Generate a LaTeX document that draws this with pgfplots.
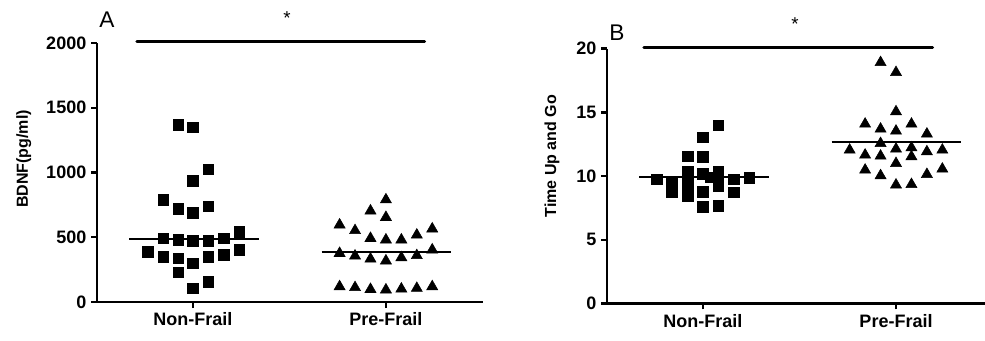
\documentclass[border=0pt]{standalone}
\usepackage{fontspec}
\setmainfont{Liberation Sans}
\usepackage{pgfplots}
\pgfplotsset{compat=1.18}
\pgfplotsset{
  panel/.style={
    scale only axis,
    axis x line=bottom, axis y line=left,
    axis line style={line width=2.2pt,-},
    every tick/.style={line width=1.8pt, black},
    major tick length=4.5pt,
    tick align=outside,
    xtick={0,1}, xticklabels={Non-Frail,Pre-Frail},
    ticklabel style={font=\fontsize{13.5}{16}\selectfont\bfseries},
    /pgf/number format/assume math mode=true,
    /pgf/number format/1000 sep={},
    clip=false,
  },
  sq/.style={only marks, mark=square*, mark size=4pt, black},
  tri/.style={only marks, mark=triangle*, mark size=4.8pt, black},
  med/.style={black, line width=1.5pt, mark=none},
  sig/.style={black, line width=2.3pt, line cap=round, mark=none},
}
\begin{document}
\begin{tikzpicture}
\path[use as bounding box] (0pt,0pt) rectangle (738.75pt,255pt);
% ---------------- Panel A ----------------
\begin{axis}[panel, at={(72.75pt,28.5pt)}, anchor=south west,
  width=289.5pt, height=194.25pt,
  xmin=-0.497, xmax=1.503, ymin=0, ymax=2000,
  ytick={0,500,1000,1500,2000}]
\addplot[sq] coordinates {
 (-0.076,1367) (0,1349) (0.08,1025) (0,934) (-0.154,788) (-0.076,721) (0,690) (0.08,739)
 (0.24,543) (-0.154,492) (-0.076,479) (0,473) (0.08,473) (0.16,492)
 (-0.235,386) (-0.154,350) (-0.076,337) (0,299) (0.08,350) (0.16,363) (0.24,402)
 (-0.076,229) (0,106) (0.08,157)};
\addplot[tri] coordinates {
 (1,790) (0.92,704) (1,654)
 (0.76,596) (0.84,552) (0.92,492) (1,480) (1.08,480) (1.16,518) (1.24,565)
 (1.24,403) (0.76,376) (0.84,356) (0.92,333) (1,318) (1.08,343) (1.16,359)
 (0.76,119) (0.84,112) (0.92,98) (1,94) (1.08,101) (1.16,106) (1.24,119)};
\addplot[med] coordinates {(-0.33,484) (0.34,484)};
\addplot[med] coordinates {(0.667,386) (1.337,386)};
\addplot[sig] coordinates {(-0.29,2010) (1.20,2010)};
\node[font=\fontsize{14}{16}\selectfont] at (axis cs:0.487,2190) {*};
\node[font=\fontsize{17}{20}\selectfont] at (axis cs:-0.446,2178) {A};
\node[rotate=90, font=\fontsize{12}{14}\selectfont\bfseries] at (axis cs:-0.876,1104) {BDNF(pg/ml)};
\end{axis}
% ---------------- Panel B ----------------
\begin{axis}[panel, at={(455.25pt,27.45pt)}, anchor=south west,
  width=283.5pt, height=191.1pt,
  xmin=-0.497, xmax=1.461, ymin=0, ymax=20,
  ytick={0,5,10,15,20}]
\addplot[sq] coordinates {
 (-0.24,9.74) (-0.16,9.55) (-0.16,8.77)
 (-0.08,11.55) (-0.08,10.34) (-0.08,9.69) (-0.08,9.03) (-0.08,8.4)
 (0,13.03) (0,11.5) (0,10.2) (0,8.77) (0,7.6)
 (0.08,13.98) (0.08,10.34) (0.08,9.55) (0.08,7.65) (0.04,9.9) (0.08,9.2)
 (0.16,9.74) (0.16,8.72) (0.24,9.87)};
\addplot[tri] coordinates {
 (0.92,18.91) (1,18.13) (1,15.05) (0.84,14.08) (0.92,13.69) (1,13.53) (1.08,14.08) (1.16,13.30)
 (0.92,12.56) (0.76,12.04) (0.84,11.65) (0.92,11.57) (1,12.12) (1.08,12.22) (1.08,11.52)
 (1.16,11.91) (1.24,12.04) (1,10.99) (0.84,10.47) (0.92,10.03) (1.16,10.13) (1.24,10.55)
 (1,9.30) (1.08,9.34)};
\addplot[med] coordinates {(-0.33,9.9) (0.34,9.9)};
\addplot[med] coordinates {(0.667,12.64) (1.337,12.64)};
\addplot[sig] coordinates {(-0.306,20.1) (1.19,20.1)};
\node[font=\fontsize{14}{16}\selectfont] at (axis cs:0.477,21.9) {*};
\node[font=\fontsize{17}{20}\selectfont] at (axis cs:-0.446,21.22) {B};
\node[rotate=90, font=\fontsize{12}{14}\selectfont\bfseries] at (axis cs:-0.782,11.56) {Time Up and Go};
\end{axis}
\end{tikzpicture}
\end{document}
